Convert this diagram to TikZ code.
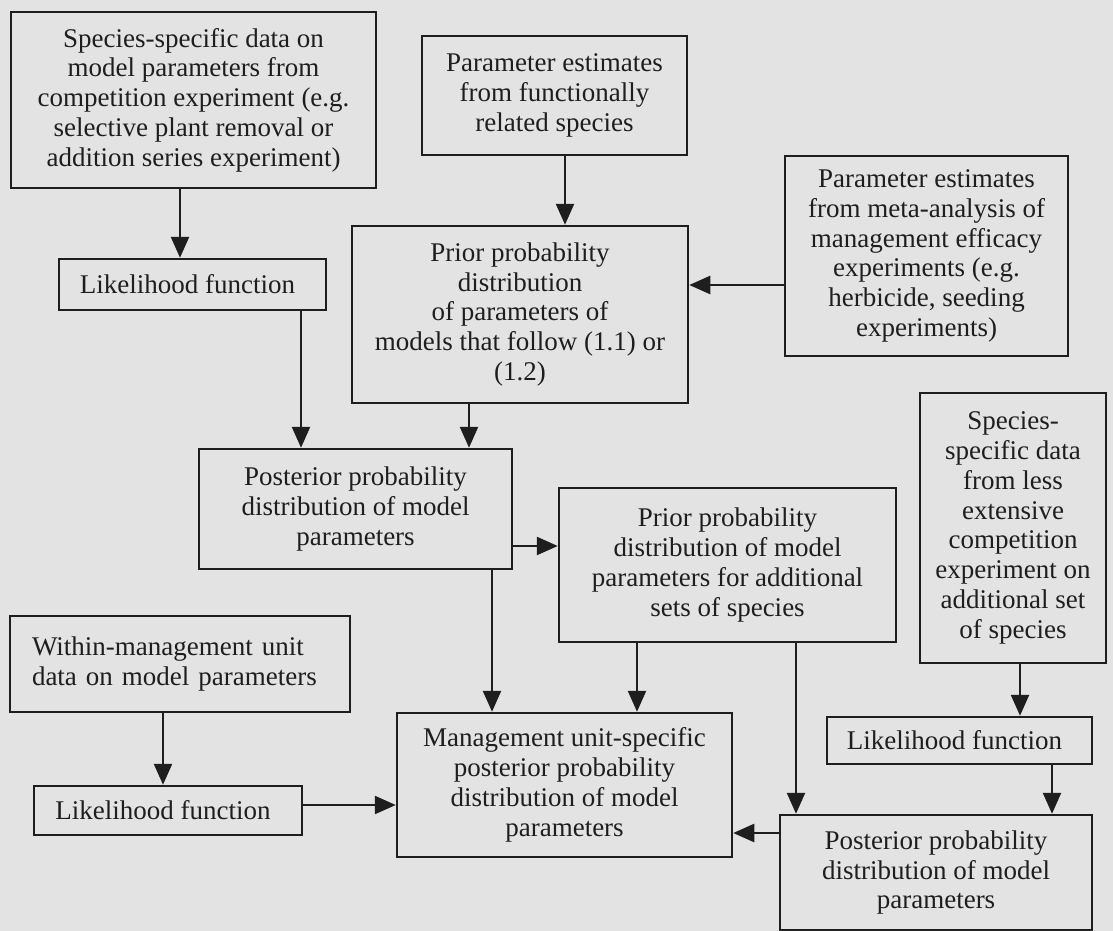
\documentclass[tikz,border=0pt]{standalone}
\usepackage{fontspec}
\setmainfont{Liberation Serif}
\usetikzlibrary{arrows.meta}
\definecolor{bg}{RGB}{227,227,227}
\definecolor{ink}{RGB}{30,30,30}
\begin{document}
\begin{tikzpicture}[x=1pt,y=-1pt,
  box/.style={draw=ink, line width=2.5pt, text=ink, align=center, inner sep=0pt,
    font=\fontsize{27}{29.8}\selectfont},
  arr/.style={draw=ink, line width=2.5pt, -{Triangle[length=21pt,width=18pt]}}]
\fill[bg] (0,0) rectangle (1113,931);
\useasboundingbox (0,0) rectangle (1113,931);

\node[box, minimum width=365pt, minimum height=176pt] (A) at (193.5,100)
  {Species-specific data on\\ model parameters from\\ competition experiment (e.g.\\ selective plant removal or\\ addition series experiment)};
\node[box, minimum width=265pt, minimum height=119pt] (B) at (554.5,95.5)
  {Parameter estimates\\ from functionally\\ related species};
\node[box, minimum width=267pt, minimum height=51pt] (L1) at (192.5,284.5)
  {Likelihood function\hspace{10pt}};
\node[box, minimum width=336pt, minimum height=177pt] (P1) at (520,314.5)
  {Prior probability\\ distribution\\ of parameters of\\ models that follow (1.1) or\\ (1.2)};
\node[box, minimum width=283pt, minimum height=200pt] (M) at (926.5,256)
  {Parameter estimates\\ from meta-analysis of\\ management efficacy\\ experiments (e.g.\\ herbicide, seeding\\ experiments)};
\node[box, minimum width=313pt, minimum height=120pt] (Q1) at (355.5,509)
  {Posterior probability\\ distribution of model\\ parameters};
\node[box, minimum width=337pt, minimum height=154pt] (P2) at (727.5,565)
  {Prior probability\\ distribution of model\\ parameters for additional\\ sets of species};
\node[box, minimum width=186pt, minimum height=270pt] (S) at (1013,528)
  {Species-\\ specific data\\ from less\\ extensive\\ competition\\ experiment on\\ additional set\\ of species};
\node[box, align=left, text width=296pt, inner xsep=22pt, minimum height=96pt] (W) at (180,664)
  {Within-management unit\\ data on model parameters};
\node[box, minimum width=268pt, minimum height=49pt] (L2) at (168,810.5)
  {Likelihood function\hspace{10pt}};
\node[box, minimum width=335pt, minimum height=144pt] (U) at (564.5,785)
  {Management unit-specific\\ posterior probability\\ distribution of model\\ parameters};
\node[box, minimum width=265pt, minimum height=47pt] (L3) at (959.5,740.5)
  {Likelihood function\hspace{10pt}};
\node[box, minimum width=312pt, minimum height=115pt] (Q2) at (936,872.5)
  {Posterior probability\\ distribution of model\\ parameters};

\draw[arr] ([xshift=-13.5pt]A.south) -- ([xshift=-13.5pt]A.south |- L1.north);
\draw[arr] ([xshift=10.5pt]B.south) -- ([xshift=10.5pt]B.south |- P1.north);
\draw[arr] ([yshift=-29pt]M.west) -- ([yshift=-29pt]M.west -| P1.east);
\draw[arr] ([xshift=-51pt]P1.south) -- ([xshift=-51pt]P1.south |- Q1.north);
\draw[arr] ([xshift=108.5pt]L1.south) -- ([xshift=108.5pt]L1.south |- Q1.north);
\draw[arr] ([yshift=-37pt]Q1.east) -- ([yshift=-37pt]Q1.east -| P2.west);
\draw[arr] ([xshift=136.5pt]Q1.south) -- ([xshift=136.5pt]Q1.south |- U.north);
\draw[arr] ([xshift=-90.5pt]P2.south) -- ([xshift=-90.5pt]P2.south |- U.north);
\draw[arr] ([xshift=68.5pt]P2.south) -- ([xshift=68.5pt]P2.south |- Q2.north);
\draw[arr] ([xshift=7pt]S.south) -- ([xshift=7pt]S.south |- L3.north);
\draw[arr] ([xshift=92.5pt]L3.south) -- ([xshift=92.5pt]L3.south |- Q2.north);
\draw[arr] ([yshift=39.5pt]Q2.west) -- ([yshift=39.5pt]Q2.west -| U.east);
\draw[arr] ([xshift=-17pt]W.south) -- ([xshift=-17pt]W.south |- L2.north);
\draw[arr] ([yshift=5.5pt]L2.east) -- ([yshift=5.5pt]L2.east -| U.west);
\end{tikzpicture}
\end{document}
